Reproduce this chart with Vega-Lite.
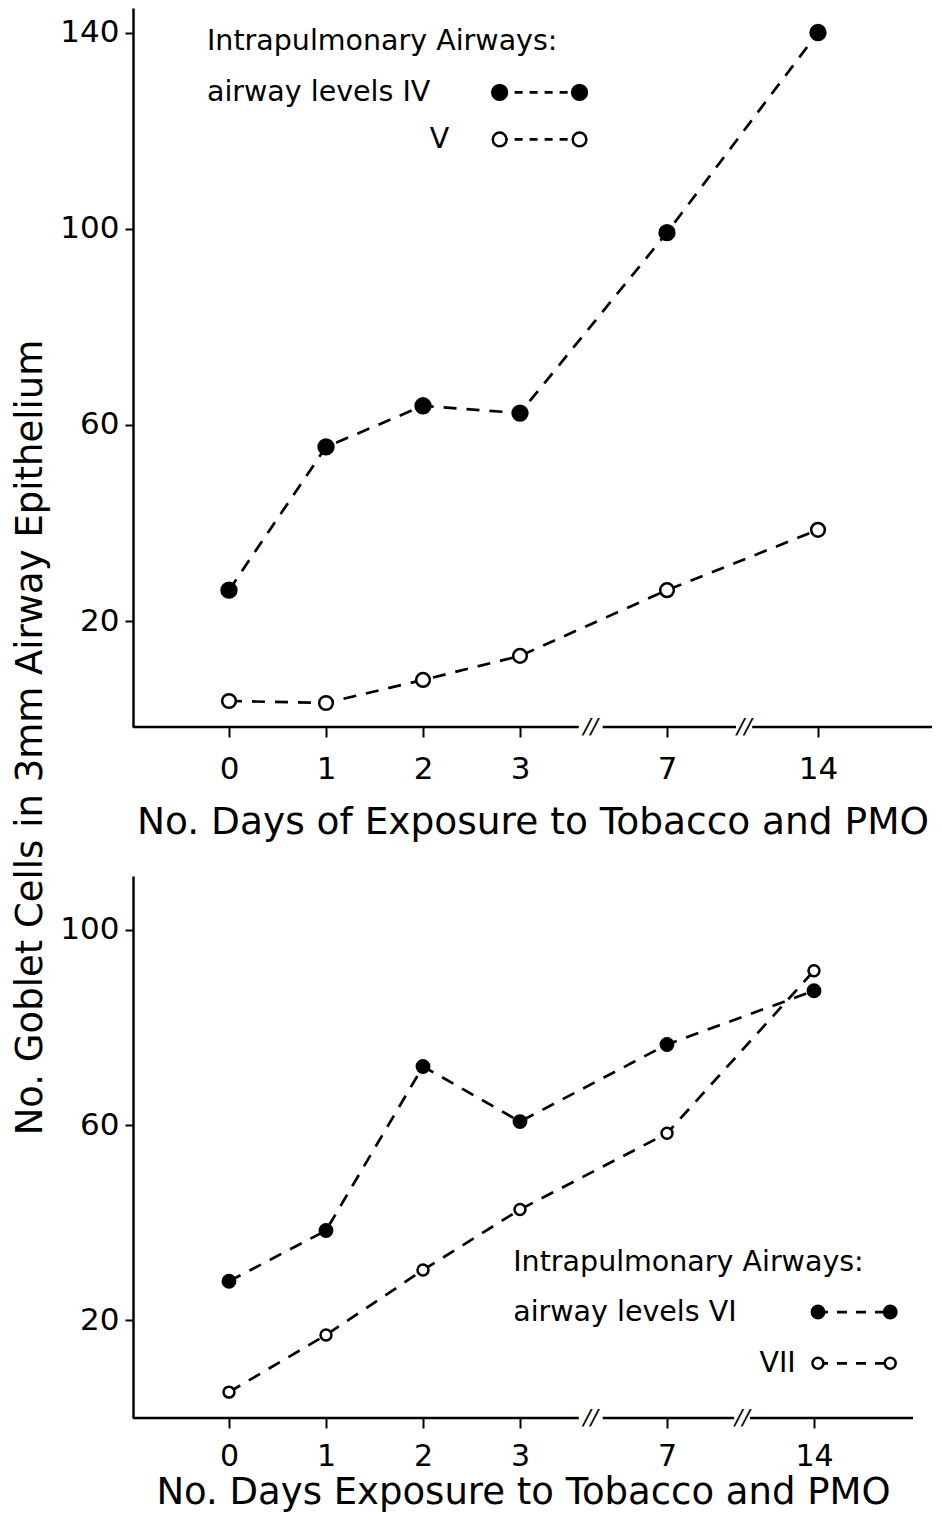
{
  "$schema": "https://vega.github.io/schema/vega-lite/v6.json",
  "padding": {"left": 11, "top": 8, "right": 5, "bottom": 5},
  "spacing": 149,
  "bounds": "flush",
  "config": {
    "font": "DejaVu Sans",
    "view": {"stroke": null},
    "axis": {"grid": false, "domainColor": "black", "tickColor": "black", "labelColor": "black", "titleColor": "black", "labelFont": "DejaVu Sans", "titleFont": "DejaVu Sans", "titleFontWeight": "normal"}
  },
  "datasets": {
    "top": [
      {"level": "IV", "day": 0, "cells": 26.3}, {"level": "IV", "day": 1, "cells": 55.5}, {"level": "IV", "day": 2, "cells": 63.9},
      {"level": "IV", "day": 3, "cells": 62.4}, {"level": "IV", "day": 7, "cells": 99.2}, {"level": "IV", "day": 14, "cells": 140},
      {"level": "V", "day": 0, "cells": 3.7}, {"level": "V", "day": 1, "cells": 3.3}, {"level": "V", "day": 2, "cells": 8.0},
      {"level": "V", "day": 3, "cells": 12.9}, {"level": "V", "day": 7, "cells": 26.3}, {"level": "V", "day": 14, "cells": 38.6}
    ],
    "bottom": [
      {"level": "VI", "day": 0, "cells": 28.0}, {"level": "VI", "day": 1, "cells": 38.4}, {"level": "VI", "day": 2, "cells": 72.0},
      {"level": "VI", "day": 3, "cells": 60.7}, {"level": "VI", "day": 7, "cells": 76.5}, {"level": "VI", "day": 14, "cells": 87.5},
      {"level": "VII", "day": 0, "cells": 5.3}, {"level": "VII", "day": 1, "cells": 17.0}, {"level": "VII", "day": 2, "cells": 30.3},
      {"level": "VII", "day": 3, "cells": 42.7}, {"level": "VII", "day": 7, "cells": 58.3}, {"level": "VII", "day": 14, "cells": 91.6}
    ],
    "topLegendKeys": [
      {"level": "IV", "day": 2.79, "cells": 127.8}, {"level": "IV", "day": 4.62, "cells": 127.8},
      {"level": "V", "day": 2.79, "cells": 118.2}, {"level": "V", "day": 4.62, "cells": 118.2}
    ],
    "bottomLegendKeys": [
      {"level": "VI", "day": 14.08, "cells": 21.7}, {"level": "VI", "day": 15.54, "cells": 21.7},
      {"level": "VII", "day": 14.08, "cells": 11.2}, {"level": "VII", "day": 15.54, "cells": 11.2}
    ],
    "topLegendText": [
      {"label": "Intrapulmonary Airways:", "day": -0.23, "cells": 138.2},
      {"label": "airway levels IV", "day": -0.23, "cells": 127.8},
      {"label": "V", "day": 2.07, "cells": 118.2}
    ],
    "bottomLegendText": [
      {"label": "Intrapulmonary Airways:", "day": 2.93, "cells": 31.9},
      {"label": "airway levels VI", "day": 2.93, "cells": 21.7},
      {"label": "VII", "day": 11.4, "cells": 11.2}
    ],
    "topAxisSegments": [
      {"from": -1, "to": 4.6, "cells": -1.6}, {"from": 5.25, "to": 10.2, "cells": -1.6}, {"from": 10.95, "to": 16, "cells": -1.6}
    ],
    "bottomAxisSegments": [
      {"from": -1, "to": 4.6, "cells": 0}, {"from": 5.25, "to": 10.2, "cells": 0}, {"from": 10.95, "to": 16, "cells": 0}
    ],
    "topBreaks": [
      {"day": 4.92, "label": "//", "cells": -1.6}, {"day": 10.58, "label": "//", "cells": -1.6}
    ],
    "bottomBreaks": [
      {"day": 4.92, "label": "//", "cells": 0}, {"day": 10.58, "label": "//", "cells": 0}
    ]
  },
  "vconcat": [
    {
      "width": 799,
      "height": 719,
      "encoding": {
        "x": {
          "field": "day", "type": "quantitative",
          "scale": {"domain": [-1, 0, 3, 7, 14, 16], "range": [0, 96, 387, 534, 685, 799], "nice": false, "zero": false},
          "axis": {"values": [0, 1, 2, 3, 7, 14], "domain": false, "tickSize": 10, "tickWidth": 2, "labelFontSize": 31, "labelPadding": 17,
                   "title": "No. Days of Exposure to Tobacco and PMO", "titleFontSize": 37.5, "titlePadding": 19}
        },
        "y": {
          "field": "cells", "type": "quantitative",
          "scale": {"domain": [-1.6, 145], "nice": false, "zero": false},
          "axis": {"values": [20, 60, 100, 140], "domainWidth": 2.5, "tickSize": 8, "tickWidth": 2, "labelFontSize": 31, "labelPadding": 6,
                   "title": "No. Goblet Cells in 3mm Airway Epithelium", "titleFontSize": 37, "titleAngle": -90, "titleX": -103, "titleY": 729,
                   "titleBaseline": "middle", "titleAlign": "center"}
        }
      },
      "layer": [
        {
          "data": {"name": "topAxisSegments"},
          "mark": {"type": "rule", "color": "black", "strokeWidth": 2.5},
          "encoding": {"x": {"field": "from", "type": "quantitative"}, "x2": {"field": "to"}}
        },
        {
          "data": {"name": "topBreaks"},
          "mark": {"type": "text", "fontSize": 22, "fontStyle": "italic", "baseline": "middle", "align": "center", "color": "black"},
          "encoding": {"text": {"field": "label"}}
        },
        {
          "data": {"name": "top"},
          "mark": {"type": "line", "color": "black", "strokeWidth": 2.7, "strokeDash": [13, 10]},
          "encoding": {"detail": {"field": "level"}}
        },
        {
          "data": {"name": "top"},
          "mark": {"type": "point", "shape": "circle", "filled": true, "stroke": "black", "strokeWidth": 2.5, "opacity": 1},
          "encoding": {
            "fill": {"field": "level", "scale": {"domain": ["IV", "V"], "range": ["black", "white"]}, "legend": null},
            "size": {"field": "level", "scale": {"domain": ["IV", "V"], "range": [220, 120]}, "legend": null}
          }
        },
        {
          "data": {"name": "topLegendKeys"},
          "mark": {"type": "line", "color": "black", "strokeWidth": 2.7, "strokeDash": [8, 7]},
          "encoding": {"detail": {"field": "level"}}
        },
        {
          "data": {"name": "topLegendKeys"},
          "mark": {"type": "point", "shape": "circle", "filled": true, "stroke": "black", "strokeWidth": 2.5, "opacity": 1},
          "encoding": {
            "fill": {"field": "level", "scale": {"domain": ["IV", "V"], "range": ["black", "white"]}, "legend": null},
            "size": {"field": "level", "scale": {"domain": ["IV", "V"], "range": [200, 110]}, "legend": null}
          }
        },
        {
          "data": {"name": "topLegendText"},
          "mark": {"type": "text", "fontSize": 28.5, "align": "left", "baseline": "middle", "color": "black"},
          "encoding": {"text": {"field": "label"}}
        }
      ]
    },
    {
      "width": 780,
      "height": 542,
      "encoding": {
        "x": {
          "field": "day", "type": "quantitative",
          "scale": {"domain": [-1, 0, 3, 7, 14, 16], "range": [0, 96, 387, 534, 681, 780], "nice": false, "zero": false},
          "axis": {"values": [0, 1, 2, 3, 7, 14], "domain": false, "tickSize": 10, "tickWidth": 2, "labelFontSize": 30, "labelPadding": 13,
                   "title": "No. Days Exposure to Tobacco and PMO", "titleFontSize": 37, "titlePadding": 3}
        },
        "y": {
          "field": "cells", "type": "quantitative",
          "scale": {"domain": [0, 111], "nice": false, "zero": false},
          "axis": {"values": [20, 60, 100], "domainWidth": 2.5, "tickSize": 8, "tickWidth": 2, "labelFontSize": 31, "labelPadding": 6, "title": null}
        }
      },
      "layer": [
        {
          "data": {"name": "bottomAxisSegments"},
          "mark": {"type": "rule", "color": "black", "strokeWidth": 2.5},
          "encoding": {"x": {"field": "from", "type": "quantitative"}, "x2": {"field": "to"}}
        },
        {
          "data": {"name": "bottomBreaks"},
          "mark": {"type": "text", "fontSize": 22, "fontStyle": "italic", "baseline": "middle", "align": "center", "color": "black"},
          "encoding": {"text": {"field": "label"}}
        },
        {
          "data": {"name": "bottom"},
          "mark": {"type": "line", "color": "black", "strokeWidth": 2.7, "strokeDash": [13, 10]},
          "encoding": {"detail": {"field": "level"}}
        },
        {
          "data": {"name": "bottom"},
          "mark": {"type": "point", "shape": "circle", "filled": true, "stroke": "black", "strokeWidth": 2.5, "opacity": 1},
          "encoding": {
            "fill": {"field": "level", "scale": {"domain": ["VI", "VII"], "range": ["black", "white"]}, "legend": null},
            "size": {"field": "level", "scale": {"domain": ["VI", "VII"], "range": [220, 120]}, "legend": null}
          }
        },
        {
          "data": {"name": "bottomLegendKeys"},
          "mark": {"type": "line", "color": "black", "strokeWidth": 2.7, "strokeDash": [10, 9]},
          "encoding": {"detail": {"field": "level"}}
        },
        {
          "data": {"name": "bottomLegendKeys"},
          "mark": {"type": "point", "shape": "circle", "filled": true, "stroke": "black", "strokeWidth": 2.5, "opacity": 1},
          "encoding": {
            "fill": {"field": "level", "scale": {"domain": ["VI", "VII"], "range": ["black", "white"]}, "legend": null},
            "size": {"field": "level", "scale": {"domain": ["VI", "VII"], "range": [200, 110]}, "legend": null}
          }
        },
        {
          "data": {"name": "bottomLegendText"},
          "mark": {"type": "text", "fontSize": 28.5, "align": "left", "baseline": "middle", "color": "black"},
          "encoding": {"text": {"field": "label"}}
        }
      ]
    }
  ]
}
